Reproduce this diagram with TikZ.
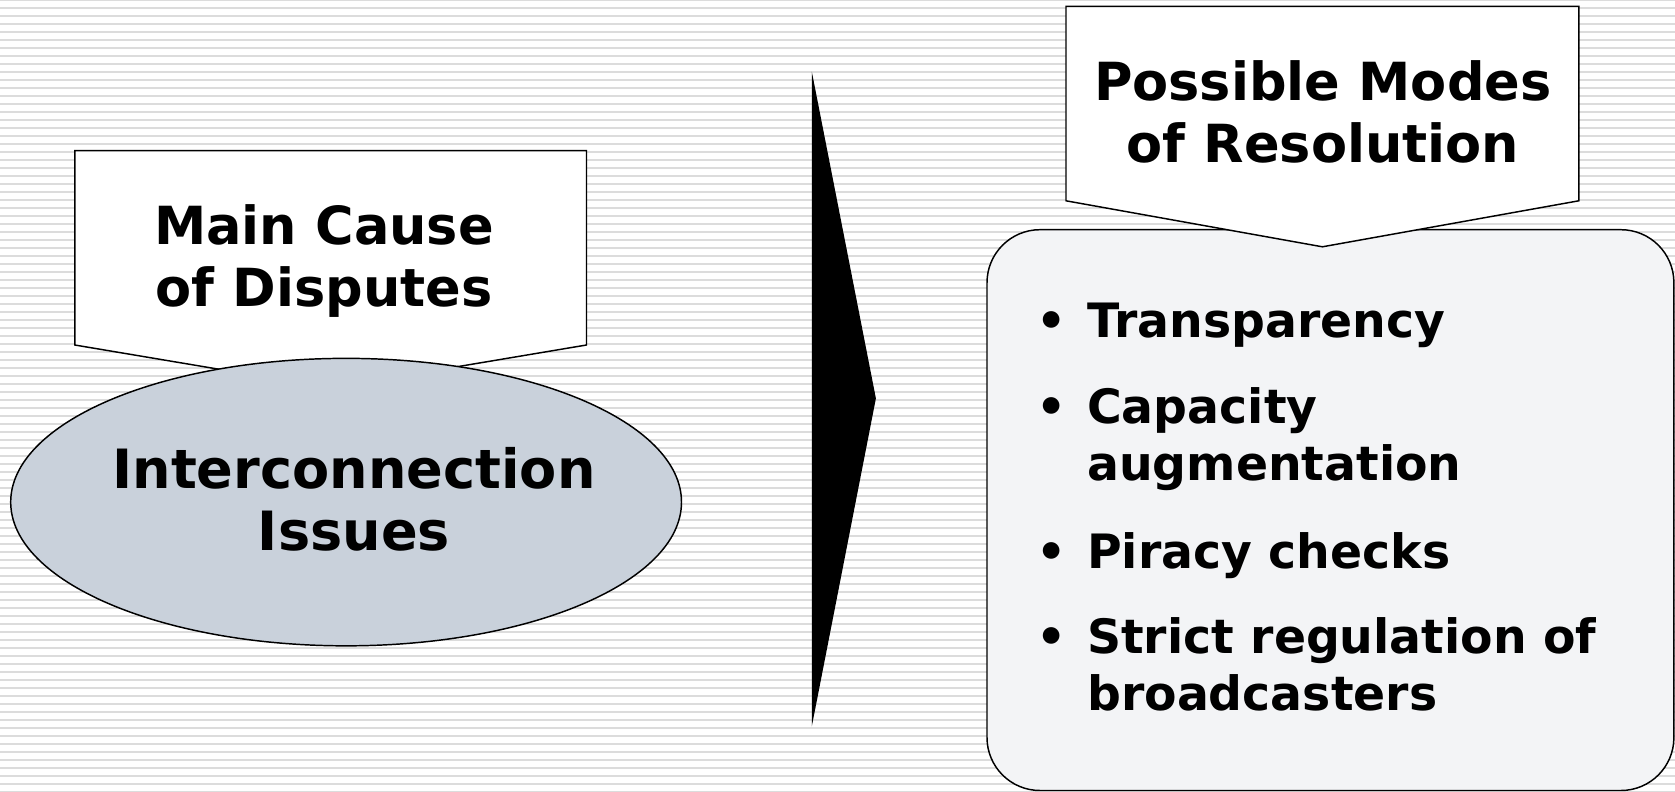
\documentclass[tikz,border=0pt]{standalone}
\usepackage{fontspec}
\setmainfont{DejaVu Sans}
\usepackage{tikz}
\usepackage{xcolor}
\definecolor{stripe}{HTML}{DCDCDC}
\definecolor{ovalfill}{HTML}{C9D1DB}
\definecolor{panelfill}{HTML}{F3F4F6}
\newcommand{\bul}{\makebox[0pt][r]{\textbullet\hspace{15.75pt}}}

\begin{document}
\begin{tikzpicture}[x=0.75pt,y=-0.75pt,
                    every node/.style={inner sep=0pt},
                    head/.style={align=center, anchor=base, font=\fontsize{39.4}{46.5}\selectfont\bfseries},
                    item/.style={align=left, anchor=base west, font=\fontsize{35.5}{42.5}\selectfont\bfseries},
                    outline/.style={draw=black, line width=1.1pt}]
                    \useasboundingbox (0,0) rectangle (1675,792);
                    \fill[white] (0,0) rectangle (1675,792);
                    \foreach \k in {0,...,99}
                        \draw[stripe, line width=1.5pt] (0,8*\k-0.3) -- (1675,8*\k-0.3);

                    % left side
                    \filldraw[outline, fill=white] (74.8,150.6) -- (586.5,150.6) -- (586.5,345) -- (330.6,388) -- (74.8,345) -- cycle;
                    \node[head] (A) at (324,306.5) {Main Cause\\of Disputes};
                    \filldraw[outline, fill=ovalfill] (346.1,502.1) ellipse [x radius=251.55pt, y radius=107.8pt];
                    \node[head, font=\fontsize{40.6}{46.5}\selectfont\bfseries] (B) at (354,550) {Interconnection\\Issues};

                    % arrow
                    \fill[black] (811.8,71.6) -- (875.9,398.4) -- (811.8,726.4) -- cycle;

                    % right side
                    \filldraw[outline, fill=panelfill, rounded corners=39.75pt] (987,229.7) rectangle (1673.9,790.5);
                    \filldraw[outline, fill=white] (1066,6.4) -- (1578.8,6.4) -- (1578.8,200.8) -- (1322.4,246.8) -- (1066,200.8) -- cycle;
                    \node[head] (C) at (1322.8,162.3) {Possible Modes\\of Resolution};

                    \node[item] (D1) at (1087,337.5) {\bul Transparency};
                    \node[item] (D2) at (1087,480.6) {\bul Capacity\\augmentation};
                    \node[item] (D3) at (1087,568) {\bul Piracy checks};
                    \node[item] (D4) at (1087,710) {\bul Strict regulation of\\broadcasters};
                \end{tikzpicture}
\end{document}
